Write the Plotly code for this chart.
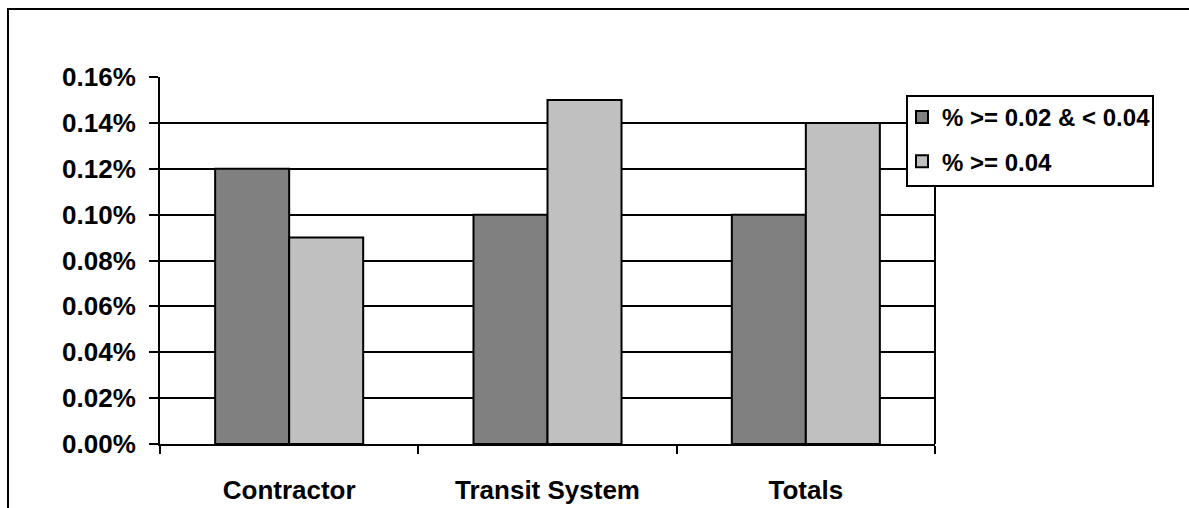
import plotly.graph_objects as go

# Share of records by category (values in fractions, shown as percent)
categories = ["Contractor", "Transit System", "Totals"]
series_names = ["% >= 0.02 & < 0.04", "% >= 0.04"]
low_band = [0.0012, 0.0010, 0.0010]
high_band = [0.0009, 0.0015, 0.0014]
y_ticks = [0, 0.0002, 0.0004, 0.0006, 0.0008, 0.0010, 0.0012, 0.0014, 0.0016]

W, H = 1189, 508
FONT = "Liberation Sans, Arial, sans-serif"

fig = go.Figure()
fig.add_trace(go.Bar(x=categories, y=low_band, name=series_names[0],
                     legendgroup="a",
                     marker=dict(color="#808080", line=dict(color="black", width=2))))
fig.add_trace(go.Bar(x=categories, y=high_band, name=series_names[1],
                     legendgroup="b",
                     marker=dict(color="#C0C0C0", line=dict(color="black", width=2))))

x0, x1 = 160, 935
y_top, y_bot = 77, 444

# legend frame (pixels)
lg_l, lg_r, lg_t, lg_b = 907, 1153, 96, 186

fig.update_layout(
    width=W, height=H,
    margin=dict(l=0, r=0, t=0, b=0, autoexpand=False),
    paper_bgcolor="white", plot_bgcolor="white",
    font=dict(family=FONT, size=26, color="black", weight="bold"),
    barmode="group", bargap=0.427, bargroupgap=0,
    showlegend=True,
    legend=dict(x=(lg_l - 5) / W, y=1 - (lg_t - 1) / H, xanchor="left", yanchor="top",
                bgcolor="rgba(0,0,0,0)", borderwidth=0,
                font=dict(size=24, family=FONT, weight="bold"),
                tracegroupgap=10, traceorder="grouped", itemwidth=30),
    xaxis=dict(domain=[x0 / W, x1 / W], showline=True, linecolor="black", linewidth=2,
               ticks="outside", tickson="boundaries", ticklen=8, tickwidth=2,
               tickcolor="black", ticklabelstandoff=22, showgrid=False),
    yaxis=dict(domain=[1 - y_bot / H, 1 - y_top / H], range=[0, 0.0016],
               tickvals=y_ticks, tickformat=".2%",
               showline=True, linecolor="black", linewidth=2,
               ticks="outside", ticklen=9, tickwidth=2, tickcolor="black",
               ticklabelstandoff=8,
               showgrid=True, gridcolor="black", gridwidth=2, zeroline=False),
    shapes=[
        # chart frame
        dict(type="rect", xref="paper", yref="paper",
             x0=8 / W, x1=1.05, y0=-0.1, y1=1 - 9 / H,
             line=dict(color="black", width=2), fillcolor="rgba(0,0,0,0)", layer="below"),
        # right edge of plot area below the legend
        dict(type="line", xref="x domain", yref="y domain",
             x0=1, x1=1, y0=0, y1=(y_bot - lg_b) / (y_bot - y_top),
             line=dict(color="black", width=2)),
        # legend box
        dict(type="rect", xref="paper", yref="paper",
             x0=lg_l / W, x1=lg_r / W, y0=1 - lg_b / H, y1=1 - lg_t / H,
             line=dict(color="black", width=2), fillcolor="white", layer="above"),
    ],
)

fig.write_html("out.html")
